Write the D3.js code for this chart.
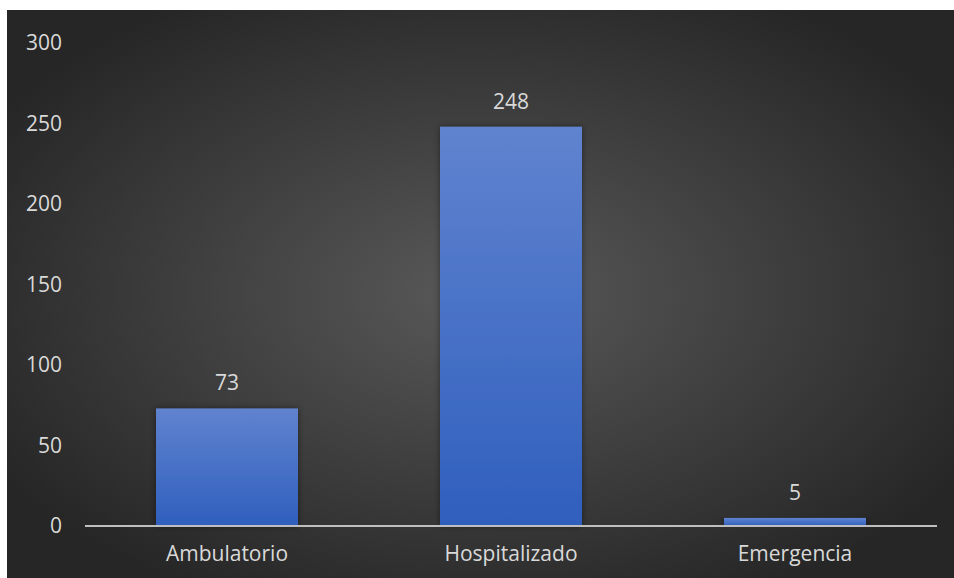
<!DOCTYPE html>
<html lang="en">
<head>
<meta charset="UTF-8">
<script src="https://d3js.org/d3.v7.min.js"></script>
<style>
  body { margin: 0; background: #fff; }
  text { font-family: "Open Sans", sans-serif; fill: #d9d9d9; }
</style>
</head>
<body>
<script>
// chart data
const categories = ["Ambulatorio", "Hospitalizado", "Emergencia"];
const values = [73, 248, 5];
const yTicks = [0, 50, 100, 150, 200, 250, 300];

const width = 954, height = 578;
const fontSize = 21;
const svg = d3.select("body").append("svg")
  .attr("width", width)
  .attr("height", height);

const defs = svg.append("defs");

// dark radial background
const bg = defs.append("radialGradient")
  .attr("id", "bg")
  .attr("cx", "50%").attr("cy", "50%").attr("r", "60%");
bg.append("stop").attr("offset", "0%").attr("stop-color", "#595959");
bg.append("stop").attr("offset", "100%").attr("stop-color", "#262626");

// bar fill
const barGrad = defs.append("linearGradient")
  .attr("id", "barGrad")
  .attr("x1", 0).attr("y1", 0).attr("x2", 0).attr("y2", 1);
barGrad.append("stop").attr("offset", "0%").attr("stop-color", "#6083cf");
barGrad.append("stop").attr("offset", "100%").attr("stop-color", "#2f5fbd");

const shadow = defs.append("filter").attr("id", "shadow")
  .attr("x", "-10%").attr("y", "-10%").attr("width", "120%").attr("height", "120%");
shadow.append("feDropShadow")
  .attr("dx", 0).attr("dy", 0).attr("stdDeviation", 3)
  .attr("flood-color", "#000").attr("flood-opacity", 0.45);

svg.append("rect")
  .attr("x", 7).attr("y", 10)
  .attr("width", width - 7).attr("height", height - 10)
  .attr("fill", "url(#bg)");

const x = d3.scaleBand()
  .domain(categories)
  .range([85, 937])
  .paddingInner(0.5)
  .paddingOuter(0.25);

const y = d3.scaleLinear()
  .domain([0, 300])
  .range([526, 43]);

// y axis labels
const yAxis = svg.append("g")
  .attr("transform", "translate(62,0)")
  .call(d3.axisLeft(y).tickValues(yTicks).tickSize(0).tickPadding(0));
yAxis.select(".domain").remove();
yAxis.selectAll("text")
  .attr("font-size", fontSize)
  .attr("font-family", "'Open Sans', sans-serif")
  .attr("fill", "#d9d9d9");

// bars
svg.selectAll(".bar")
  .data(values)
  .enter().append("rect")
  .attr("class", "bar")
  .attr("x", (d, i) => x(categories[i]))
  .attr("y", d => y(d))
  .attr("width", x.bandwidth())
  .attr("height", d => y(0) - y(d))
  .attr("fill", "url(#barGrad)")
  .attr("filter", "url(#shadow)");

// baseline
svg.append("line")
  .attr("x1", 85).attr("x2", 937)
  .attr("y1", y(0)).attr("y2", y(0))
  .attr("stroke", "#bfbfbf")
  .attr("stroke-width", 2);

// x axis labels
const xAxis = svg.append("g")
  .attr("transform", `translate(0,${y(0)})`)
  .call(d3.axisBottom(x).tickSize(0).tickPadding(20));
xAxis.select(".domain").remove();
xAxis.selectAll("text")
  .attr("font-size", fontSize)
  .attr("font-family", "'Open Sans', sans-serif")
  .attr("fill", "#d9d9d9");

// value labels
svg.selectAll(".val")
  .data(values)
  .enter().append("text")
  .attr("class", "val")
  .attr("x", (d, i) => x(categories[i]) + x.bandwidth() / 2)
  .attr("y", d => y(d) - 18)
  .attr("text-anchor", "middle")
  .attr("font-size", fontSize)
  .text(d => d);
</script>
</body>
</html>
